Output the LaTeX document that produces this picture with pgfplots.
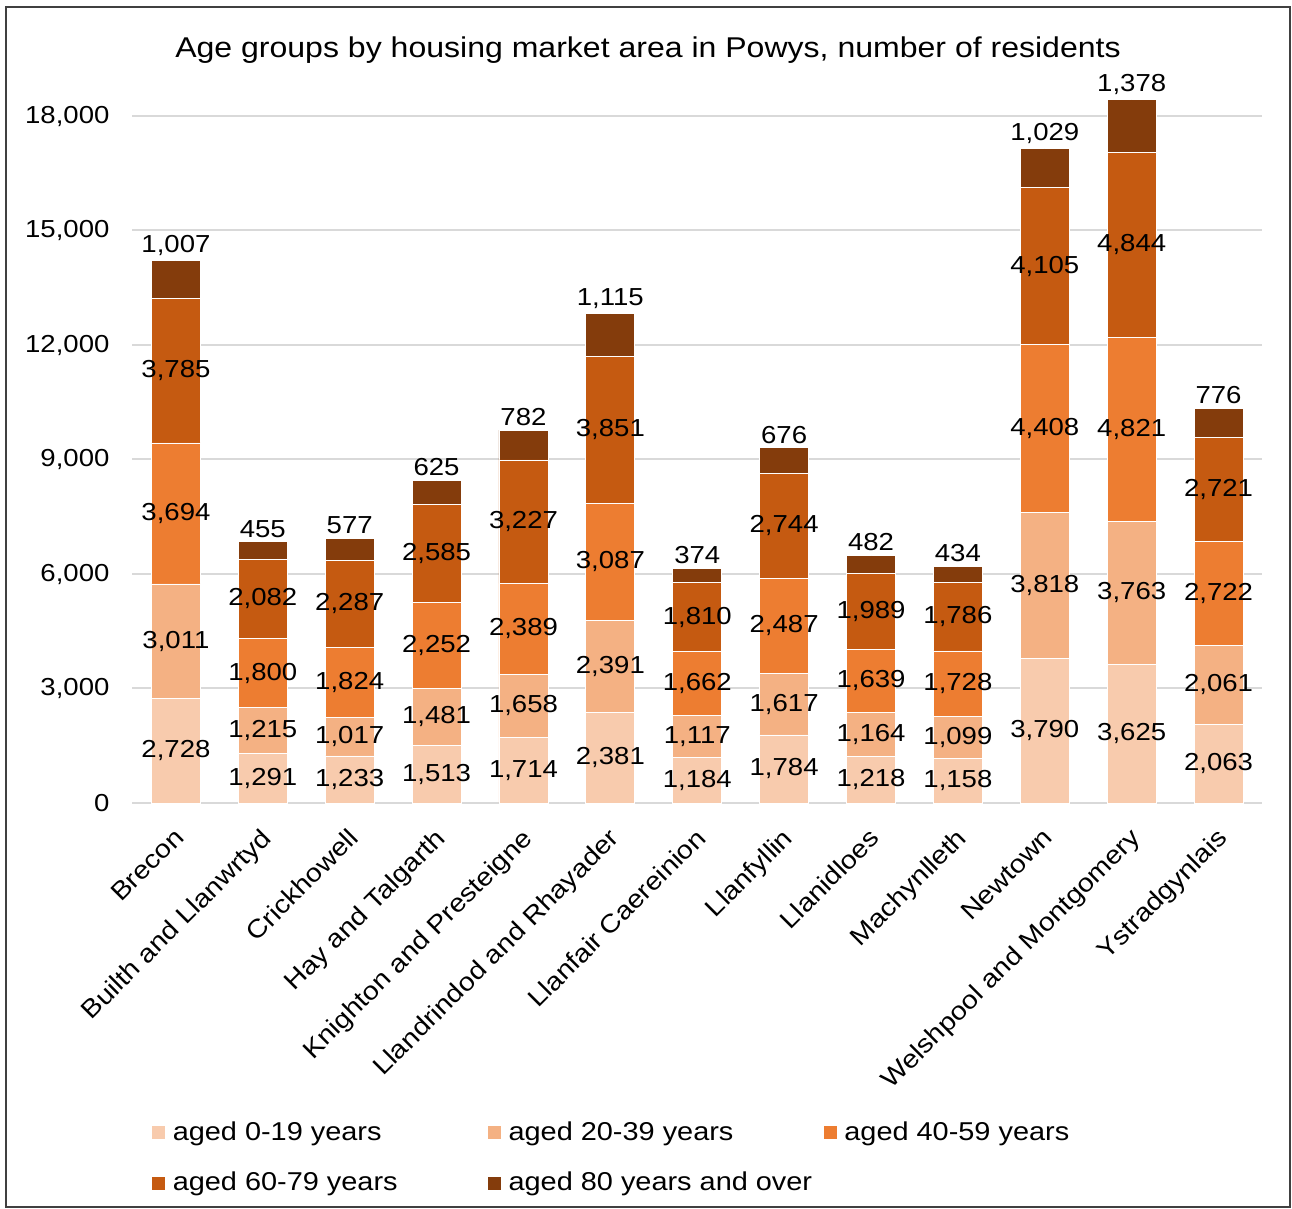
\documentclass[border=0pt]{standalone}
\usepackage{pgfplots}
\usepackage{pgfplotstable}
\pgfplotsset{compat=1.18}
\usepackage{fontspec}
\setmainfont{Liberation Sans}[FakeStretch=1.12]
\newcommand\lab{\fontsize{12.3}{14}\selectfont}
\newcommand\xlab{\fontsize{12.7}{14}\selectfont}
\newcommand\leg{\fontsize{12.9}{14}\selectfont}
\newcommand\ttl{\fontsize{14.3}{17}\selectfont}
\definecolor{cA}{HTML}{F8CBAD}
\definecolor{cB}{HTML}{F4B183}
\definecolor{cC}{HTML}{ED7D31}
\definecolor{cD}{HTML}{C55A11}
\definecolor{cE}{HTML}{843C0C}
\definecolor{gridgray}{HTML}{D9D9D9}
\pgfplotstableread{
x a b c d e
0 2728 3011 3694 3785 1007
1 1291 1215 1800 2082 455
2 1233 1017 1824 2287 577
3 1513 1481 2252 2585 625
4 1714 1658 2389 3227 782
5 2381 2391 3087 3851 1115
6 1184 1117 1662 1810 374
7 1784 1617 2487 2744 676
8 1218 1164 1639 1989 482
9 1158 1099 1728 1786 434
10 3790 3818 4408 4105 1029
11 3625 3763 4821 4844 1378
12 2063 2061 2722 2721 776
}\data
\pgfplotsset{
  base/.style={
    at={(0pt,0pt)}, anchor=south west,
    scale only axis, width=564.75pt, height=372.125pt,
    xmin=-0.5, xmax=12.5, ymin=0, ymax=19500,
    clip=false,
  },
  lbl/.style={
    only marks, mark=*, mark size=0pt, mark options={draw=none,fill=none},
    point meta=explicit,
    nodes near coords={\pgfmathprintnumber[fixed,precision=0,1000 sep={,},assume math mode=true]{\pgfplotspointmeta}},
    every node near coord/.append style={font=\lab, anchor=center, text=black, inner sep=1pt},
  },
}
\begin{document}
\begin{tikzpicture}
\useasboundingbox (-66.25pt,-203pt) rectangle (579.75pt,401.5pt);
\draw[black!75, line width=0.6pt] (-63.25pt,-202pt) rectangle (578.75pt,398pt);
\begin{axis}[base,
  ybar stacked, bar width=24.5pt,
  axis lines*=left, axis line style={draw=none},
  major tick length=0pt,
  ytick={0,3000,...,18000},
  scaled y ticks=false,
  yticklabel={\pgfmathprintnumber[fixed,precision=0,1000 sep={,},assume math mode=true]{\tick}},
  ymajorgrids, grid style={gridgray, line width=1pt},
  yticklabel style={font=\lab, xshift=-8pt},
  xtick={0,...,12},
  xticklabels={Brecon, Builth and Llanwrtyd, Crickhowell, Hay and Talgarth, Knighton and Presteigne, Llandrindod and Rhayader, Llanfair Caereinion, Llanfyllin, Llanidloes, Machynlleth, Newtown, Welshpool and Montgomery, Ystradgynlais},
  xticklabel style={font=\xlab, xshift=-1.5pt, yshift=-10.2pt, rotate=45, anchor=north east, inner sep=1pt},
  title={Age groups by housing market area in Powys, number of residents},
  title style={font=\ttl, at={(0.4564,0.9862)}, anchor=base, yshift=0pt},
  legend columns=3,
  legend style={draw=none, fill=none, font=\leg, at={(0.0160,-0.422)}, anchor=north west, inner sep=0pt, row sep=10.5pt,
    /tikz/every even column/.append style={column sep=0pt}},
  legend image code/.code={\fill[#1] (0pt,-3.5pt) rectangle (7pt,3.5pt);},
]
\addplot[fill=cA, draw=white, line width=0.4pt] table[x=x, y=a] {\data};
\addplot[fill=cB, draw=white, line width=0.4pt] table[x=x, y=b] {\data};
\addplot[fill=cC, draw=white, line width=0.4pt] table[x=x, y=c] {\data};
\addplot[fill=cD, draw=white, line width=0.4pt] table[x=x, y=d] {\data};
\addplot[fill=cE, draw=white, line width=0.4pt] table[x=x, y=e] {\data};
\legend{\hspace{1.5pt}\makebox[155pt][l]{aged 0-19 years}, \hspace{1.5pt}\makebox[155pt][l]{aged 20-39 years}, \hspace{1.5pt}\makebox[155pt][l]{aged 40-59 years}, \hspace{1.5pt}\makebox[155pt][l]{aged 60-79 years}, \hspace{1.5pt}\makebox[155pt][l]{aged 80 years and over}}
\end{axis}
\begin{axis}[base, hide axis]
\addplot[lbl] table[x=x, y expr={\thisrow{a}/2}, meta=a] {\data};
\addplot[lbl] table[x=x, y expr={\thisrow{a}+\thisrow{b}/2}, meta=b] {\data};
\addplot[lbl] table[x=x, y expr={\thisrow{a}+\thisrow{b}+\thisrow{c}/2}, meta=c] {\data};
\addplot[lbl] table[x=x, y expr={\thisrow{a}+\thisrow{b}+\thisrow{c}+\thisrow{d}/2}, meta=d] {\data};
\addplot[lbl, every node near coord/.append style={anchor=south, yshift=1pt}] table[x=x, y expr={\thisrow{a}+\thisrow{b}+\thisrow{c}+\thisrow{d}+\thisrow{e}}, meta=e] {\data};
\end{axis}
\end{tikzpicture}
\end{document}
